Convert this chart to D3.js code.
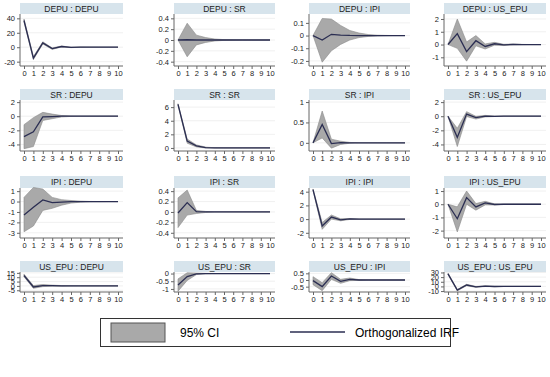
<!DOCTYPE html>
<html>
<head>
<meta charset="utf-8">
<script src="https://cdn.jsdelivr.net/npm/d3@7"></script>
<style>
  body { margin: 0; background: #fff; }
  text { font-family: "Liberation Sans", Arial, sans-serif; }
</style>
</head>
<body>
<svg id="chart"></svg>
<script>
// impulse : response panels, read row by row
var steps = d3.range(0, 11);

var titles = [
    "DEPU : DEPU", "DEPU : SR", "DEPU : IPI", "DEPU : US_EPU",
    "SR : DEPU", "SR : SR", "SR : IPI", "SR : US_EPU",
    "IPI : DEPU", "IPI : SR", "IPI : IPI", "IPI : US_EPU",
    "US_EPU : DEPU", "US_EPU : SR", "US_EPU : IPI", "US_EPU : US_EPU"
];

var irf = [
    [37, -15, 6, -2, 1, -0.3, 0.1, 0, 0, 0, 0],
    [0, 0.005, 0, 0, 0, 0, 0, 0, 0, 0, 0],
    [0, -0.035, 0.01, 0.004, 0.001, 0, 0, 0, 0, 0, 0],
    [0, 0.85, -0.55, 0.3, -0.15, 0.06, -0.03, 0.01, 0, 0, 0],
    [-2.9, -2.2, -0.1, -0.05, 0, 0, 0, 0, 0, 0, 0],
    [6.4, 1.0, 0.3, 0.06, 0.01, 0, 0, 0, 0, 0, 0],
    [0, 0.45, -0.02, 0.005, 0, 0, 0, 0, 0, 0, 0],
    [0, -3.0, 0.3, -0.2, 0.02, -0.01, 0, 0, 0, 0, 0],
    [-1.3, -0.55, 0.15, -0.1, -0.05, -0.01, 0, 0, 0, 0, 0],
    [-0.02, 0.18, 0.005, 0, 0, 0, 0, 0, 0, 0, 0],
    [4.3, -1.0, 0.3, -0.1, 0.02, 0, 0, 0, 0, 0, 0],
    [0, -1.1, 0.5, -0.2, 0.1, -0.02, 0, 0, 0, 0, 0],
    [12, -1.2, 0.4, 0.3, 0, 0, 0, 0, 0, 0, 0],
    [-0.75, -0.2, -0.02, 0, 0, 0, 0, 0, 0, 0, 0],
    [-0.05, -0.5, 0.3, -0.1, 0.05, 0, 0, 0, 0, 0, 0],
    [27, -8, 3, -1, 0.5, -0.2, 0, 0, 0, 0, 0]
];

var lower = [
    [35, -17, 4.5, -3, 0.3, -0.6, -0.1, -0.05, 0, 0, 0],
    [0, -0.31, -0.09, -0.045, -0.018, -0.007, -0.003, -0.001, 0, 0, 0],
    [0, -0.21, -0.12, -0.07, -0.035, -0.016, -0.007, -0.003, -0.001, 0, 0],
    [0, -0.3, -1.3, -0.1, -0.35, -0.05, -0.08, -0.02, -0.01, 0, 0],
    [-4.6, -4.3, -0.6, -0.35, -0.1, -0.03, 0, 0, 0, 0, 0],
    [6.3, 0.7, 0.15, 0, -0.01, 0, 0, 0, 0, 0, 0],
    [0, 0.12, -0.13, -0.04, -0.01, 0, 0, 0, 0, 0, 0],
    [0, -4.3, -0.05, -0.4, -0.1, -0.04, 0, 0, 0, 0, 0],
    [-2.9, -2.35, -0.85, -0.65, -0.35, -0.15, -0.06, -0.02, -0.01, 0, 0],
    [-0.3, -0.06, -0.03, -0.01, 0, 0, 0, 0, 0, 0, 0],
    [4.2, -1.5, 0.0, -0.25, -0.05, 0, 0, 0, 0, 0, 0],
    [0, -2.1, 0.0, -0.45, -0.05, -0.06, 0, 0, 0, 0, 0],
    [10.5, -2.8, -0.8, -0.3, -0.4, -0.1, 0, 0, 0, 0, 0],
    [-1.15, -0.45, -0.07, -0.01, 0, 0, 0, 0, 0, 0, 0],
    [-0.35, -0.8, 0.05, -0.25, -0.05, -0.03, 0, 0, 0, 0, 0],
    [25.5, -9.5, 1.5, -2, -0.2, -0.6, -0.1, 0, 0, 0, 0]
];

var upper = [
    [39, -13, 7.5, -1, 1.7, 0, 0.3, 0.05, 0, 0, 0],
    [0, 0.31, 0.09, 0.045, 0.018, 0.007, 0.003, 0.001, 0, 0, 0],
    [0, 0.135, 0.13, 0.08, 0.04, 0.02, 0.008, 0.003, 0.001, 0, 0],
    [0, 2.0, 0.2, 0.7, 0.05, 0.17, 0.02, 0.04, 0.01, 0, 0],
    [-1.2, -0.2, 0.55, 0.3, 0.1, 0.03, 0, 0, 0, 0, 0],
    [6.5, 1.3, 0.45, 0.12, 0.03, 0, 0, 0, 0, 0, 0],
    [0, 0.78, 0.09, 0.04, 0.01, 0, 0, 0, 0, 0, 0],
    [0, -1.7, 0.65, -0.02, 0.12, 0.02, 0, 0, 0, 0, 0],
    [0.4, 1.35, 1.2, 0.4, 0.18, 0.1, 0.04, 0.01, 0, 0, 0],
    [0.27, 0.42, 0.03, 0.01, 0, 0, 0, 0, 0, 0, 0],
    [4.4, -0.5, 0.6, 0.05, 0.08, 0, 0, 0, 0, 0, 0],
    [0, -0.2, 1.0, 0.05, 0.22, 0.03, 0, 0, 0, 0, 0],
    [13.5, 0.4, 1.6, 0.9, 0.4, 0.1, 0, 0, 0, 0, 0],
    [-0.35, 0.05, 0.03, 0.01, 0, 0, 0, 0, 0, 0, 0],
    [0.25, -0.2, 0.55, 0.05, 0.15, 0.03, 0, 0, 0, 0, 0],
    [28.5, -6.5, 4.5, 0, 1.2, 0.2, 0.1, 0, 0, 0, 0]
];

var yTicks = [
    [-20, 0, 20, 40], [-0.4, -0.2, 0, 0.2, 0.4], [-0.2, -0.1, 0, 0.1], [-1, 0, 1, 2],
    [-4, -2, 0, 2], [0, 2, 4, 6], [0, 0.5, 1], [-4, -2, 0, 2],
    [-3, -2, -1, 0, 1], [-0.4, -0.2, 0, 0.2, 0.4], [-2, 0, 2, 4], [-2, -1, 0, 1],
    [-5, 0, 5, 10, 15], [-1, -0.5, 0], [-0.5, 0, 0.5], [-10, 0, 10, 20, 30]
];

var yDomains = [
    [-26, 46], [-0.48, 0.48], [-0.24, 0.17], [-1.68, 2.39],
    [-4.93, 2.3], [-0.45, 7.05], [-0.2, 1.05], [-4.93, 2.3],
    [-3.5, 1.3], [-0.5, 0.46], [-2.76, 4.54], [-2.56, 1.23],
    [-7, 16], [-1.2, 0.1], [-0.9, 0.6], [-12, 31]
];

var legendLabels = ["95% CI", "Orthogonalized IRF"];

var width = 550,
    height = 377;

// x position of step 0 and step 10 in each column
var colX0 = [24, 178, 313, 448],
    colX10 = [118, 270, 405, 541];

var rows = [
    {strip: 3, top: 14, bottom: 66},
    {strip: 89, top: 100, bottom: 151},
    {strip: 176, top: 188, bottom: 238},
    {strip: 261, top: 272, bottom: 292}
];

var ciFill = "#a9a9a9",
    ciStroke = "#8a8a8a",
    lineColor = "#2b2e52",
    stripFill = "#d7e4ec";

var svg = d3.select("#chart")
    .attr("width", width)
    .attr("height", height);

var fmt = d => String(d);

titles.forEach((title, i) => {
    let col = i % 4,
        row = rows[Math.floor(i / 4)];
    let left = colX0[col] - 4,
        right = colX10[col] + 5;

    let x = d3.scaleLinear().domain([0, 10]).range([colX0[col], colX10[col]]);
    let y = d3.scaleLinear().domain(yDomains[i]).range([row.bottom, row.top]);

    let g = svg.append("g");

    // strip with the panel title
    g.append("rect")
        .attr("x", left)
        .attr("y", row.strip)
        .attr("width", right - left)
        .attr("height", row.top - row.strip)
        .attr("fill", stripFill);

    g.append("text")
        .attr("x", (left + right) / 2)
        .attr("y", (row.strip + row.top) / 2 + 3)
        .attr("text-anchor", "middle")
        .attr("font-size", 8.5)
        .attr("fill", "#222")
        .text(title);

    // horizontal grid
    g.selectAll(".grid")
        .data(yTicks[i])
        .join("line")
        .attr("x1", left)
        .attr("x2", right)
        .attr("y1", d => y(d))
        .attr("y2", d => y(d))
        .attr("stroke", "#ececec")
        .attr("stroke-width", 0.8);

    let pts = steps.map((s, k) => ({s: s, v: irf[i][k], lo: lower[i][k], hi: upper[i][k]}));

    g.append("path")
        .datum(pts)
        .attr("fill", ciFill)
        .attr("stroke", ciStroke)
        .attr("stroke-width", 0.6)
        .attr("d", d3.area().x(d => x(d.s)).y0(d => y(d.lo)).y1(d => y(d.hi)));

    g.append("path")
        .datum(pts)
        .attr("fill", "none")
        .attr("stroke", lineColor)
        .attr("stroke-width", 1.3)
        .attr("d", d3.line().x(d => x(d.s)).y(d => y(d.v)));

    // axes
    let yAxis = g.append("g")
        .attr("transform", `translate(${left}, 0)`)
        .call(d3.axisLeft(y).tickValues(yTicks[i]).tickFormat(fmt).tickSize(3).tickPadding(2));
    yAxis.select(".domain").remove();
    yAxis.append("line")
        .attr("y1", row.top).attr("y2", row.bottom)
        .attr("stroke", "#666");

    let xAxis = g.append("g")
        .attr("transform", `translate(0, ${row.bottom})`)
        .call(d3.axisBottom(x).tickValues(steps).tickFormat(fmt).tickSize(3).tickPadding(2));
    xAxis.select(".domain").remove();
    xAxis.append("line")
        .attr("x1", left).attr("x2", right)
        .attr("stroke", "#666");

    g.selectAll(".tick line").attr("stroke", "#666");
    g.selectAll(".tick text")
        .attr("font-size", 7.5)
        .attr("font-family", "Liberation Sans, Arial, sans-serif")
        .attr("fill", "#222");
});

// Legend
let lg = svg.append("g");
lg.append("rect")
    .attr("x", 100.5).attr("y", 318.5)
    .attr("width", 350).attr("height", 28)
    .attr("fill", "#fff")
    .attr("stroke", "#333");

lg.append("rect")
    .attr("x", 111).attr("y", 323)
    .attr("width", 54).attr("height", 19)
    .attr("fill", ciFill)
    .attr("stroke", "#555");

lg.append("text")
    .attr("x", 180).attr("y", 336.5)
    .attr("font-size", 12)
    .text(legendLabels[0]);

lg.append("line")
    .attr("x1", 290).attr("x2", 345)
    .attr("y1", 332).attr("y2", 332)
    .attr("stroke", lineColor)
    .attr("stroke-width", 1.3);

lg.append("text")
    .attr("x", 355).attr("y", 336.5)
    .attr("font-size", 12)
    .text(legendLabels[1]);
</script>
</body>
</html>
